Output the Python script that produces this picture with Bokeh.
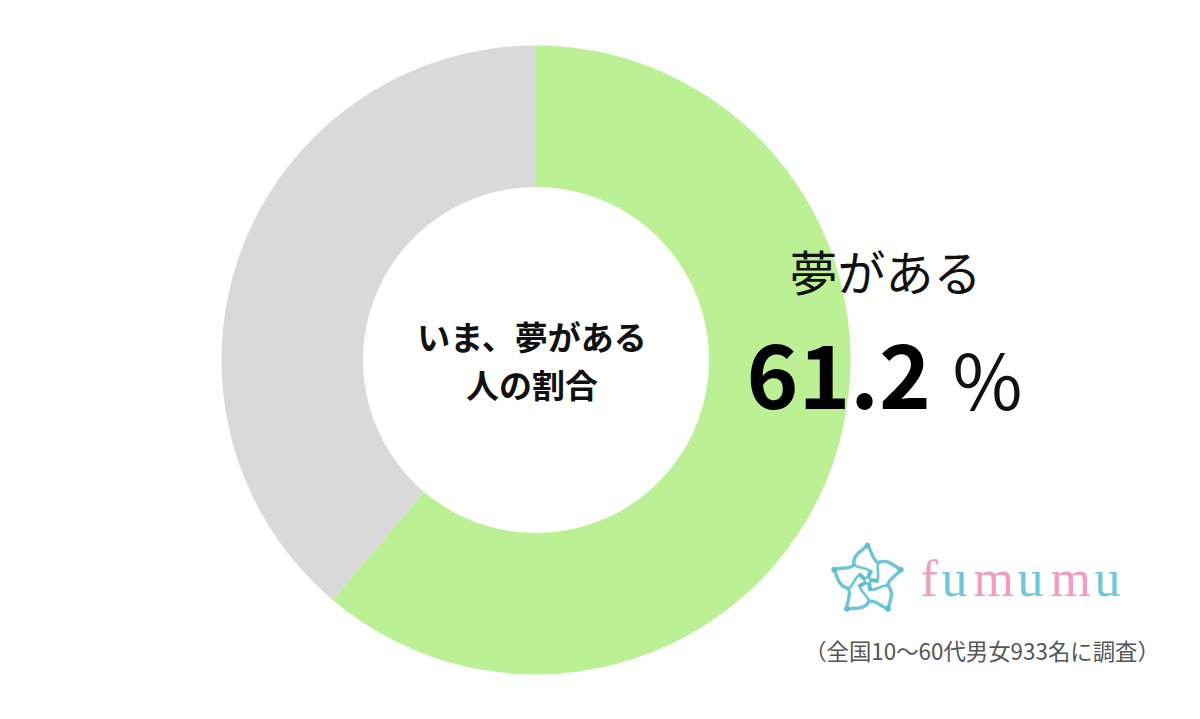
import math
from bokeh.plotting import figure
from bokeh.models import Range1d
from bokeh.core.properties import value
from bokeh.embed import file_html
from bokeh.resources import INLINE

categories = ["夢がある", "その他"]
shares = [61.2, 38.8]
slice_colors = ["#BBF095", "#D9D9D9"]
centre_lines = ["いま、夢がある", "人の割合"]
label_name = "夢がある"
label_value = "61.2"
label_unit = "%"
brand_letters = list("fumumu")
brand_colors = ["#F29CC0", "#6FC8DA", "#F29CC0", "#6FC8DA", "#F29CC0", "#6FC8DA"]
footnote = "（全国10～60代男女933名に調査）"

FONT = value("Noto Sans CJK JP")
W, H = 1184, 703
p = figure(width=W, height=H, output_backend="svg", toolbar_location=None,
           x_range=Range1d(0, W), y_range=Range1d(16, 16 + H),
           min_border=0, border_fill_color="white", background_fill_color="white")
p.axis.visible = False
p.grid.visible = False
p.outline_line_color = None

def Y(y):
    return 719 - y

cx, cy = 535.5, Y(359.5)
start = math.pi / 2
for share, col in zip(shares, slice_colors):
    end = start - share / 100 * 2 * math.pi
    p.annular_wedge([cx], [cy], inner_radius=173, outer_radius=314.5,
                    start_angle=start, end_angle=end, direction="clock",
                    fill_color=col, line_color=None)
    start = end

def label(x, y, s, size, align="left", style="normal", color="#111111", font=FONT):
    p.text([x], [Y(y)], text=[s], text_font=font, text_font_size=f"{size}px",
           text_font_style=style, text_align=align, text_baseline="middle", text_color=color)

label(531.5, 335, centre_lines[0], 33, "center", "bold")
label(531.5, 383, centre_lines[1], 33, "center", "bold")
label(789, 269, label_name, 48)
label(746, 376, label_value, 88, style="bold", color="#000000")
label(952, 376, label_unit, 76)

# logo
teal = "#5CC0D2"
lx, ly = 867, Y(580)
for k in range(5):
    a = math.pi / 2 + k * 2 * math.pi / 5
    def pt(r, t):
        return lx + r * math.cos(a + t), ly + r * math.sin(a + t)
    tip = pt(35, 0.0)
    valley = pt(21, -0.55)
    nxt = pt(35, -2 * math.pi / 5)
    inner = pt(9, -1.6)
    c0, c1 = pt(30, -0.15), pt(20, -0.25)
    c2, c3 = pt(30, -0.75), pt(30, -1.05)
    c4, c5 = pt(14, -0.6), pt(14, -1.3)
    for (s, e, a1, a2, lw) in [(tip, valley, c0, c1, 3.4), (valley, nxt, c2, c3, 3.4), (valley, inner, c4, c5, 2.6)]:
        p.bezier([s[0]], [s[1]], [e[0]], [e[1]], [a1[0]], [a1[1]], [a2[0]], [a2[1]],
                 line_color=teal, line_width=lw, line_alpha=0.9)
    p.scatter([tip[0]], [tip[1]], size=5, color=teal)
    q0, q1 = pt(2, 0.0), pt(11, -0.35)
    p.segment([q0[0]], [q0[1]], [q1[0]], [q1[1]], line_color=teal, line_width=4)

brand_x = [920, 941, 973, 1017, 1050, 1094]
for letter, col, x in zip(brand_letters, brand_colors, brand_x):
    p.text([x], [Y(578)], text=[letter], text_font=value("Liberation Serif"), text_font_size="52px",
           text_color=col, text_align="left", text_baseline="alphabetic")

label(981.5, 649, footnote, 22.4, "center", color="#555555")

open("out.html", "w").write(file_html(p, INLINE))
